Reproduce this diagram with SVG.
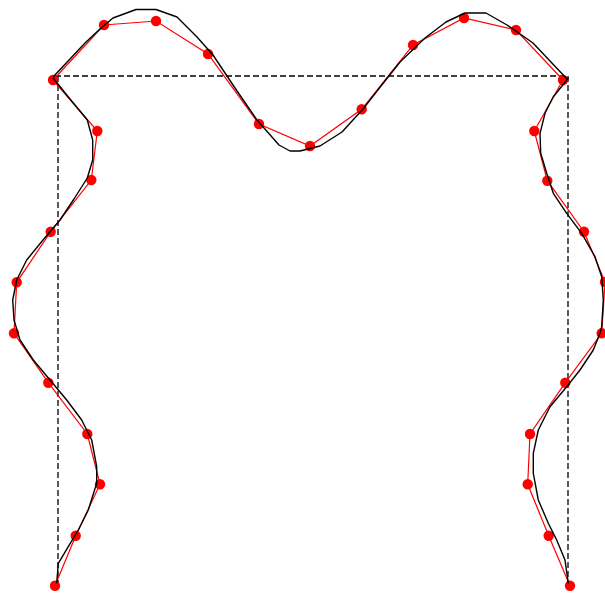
<svg xmlns="http://www.w3.org/2000/svg" width="605" height="594" viewBox="0 0 605 594">
<style>
.dash{fill:none;stroke:#000;stroke-width:1.3;stroke-dasharray:6,3}
.ctrl{fill:none;stroke:#ff0000;stroke-width:1.2}
.curve{fill:none;stroke:#000;stroke-width:1.4;stroke-linejoin:round}
.pt{fill:#ff0000}
</style>
<rect width="605" height="594" fill="#fff"/>
<g id="frame">
<polyline class="dash" points="58,586 58,76"/>
<polyline class="dash" points="55,76 568,76 568,586"/>
</g>
<g id="connectors">
<polyline class="ctrl" points="53,80 104,25 156,21 208,54 259,124 310,146 361.7,109.3 413,45 464,18 516,30 563,80"/>
<polyline class="ctrl" points="53,80 97.3,131 91.3,180 50.7,231.7 16.7,282.3 14,333.3 48.3,382.7 87.3,434 100,484.3 75.7,535.7 55,585.7"/>
<polyline class="ctrl" points="563,80 534.3,131 547.3,180.7 584,231.7 605,282 601.7,333.3 565.3,382.7 530,434 527.7,484.3 548.7,535.7 570,585.7"/>
</g>
<g id="points">
<circle class="pt" cx="53" cy="80" r="5.2"/>
<circle class="pt" cx="104" cy="25" r="5.2"/>
<circle class="pt" cx="156" cy="21" r="5.2"/>
<circle class="pt" cx="208" cy="54" r="5.2"/>
<circle class="pt" cx="259" cy="124" r="5.2"/>
<circle class="pt" cx="310" cy="146" r="5.2"/>
<circle class="pt" cx="361.7" cy="109.3" r="5.2"/>
<circle class="pt" cx="413" cy="45" r="5.2"/>
<circle class="pt" cx="464" cy="18" r="5.2"/>
<circle class="pt" cx="516" cy="30" r="5.2"/>
<circle class="pt" cx="563" cy="80" r="5.2"/>
<circle class="pt" cx="97.3" cy="131" r="5.2"/>
<circle class="pt" cx="91.3" cy="180" r="5.2"/>
<circle class="pt" cx="50.7" cy="231.7" r="5.2"/>
<circle class="pt" cx="16.7" cy="282.3" r="5.2"/>
<circle class="pt" cx="14" cy="333.3" r="5.2"/>
<circle class="pt" cx="48.3" cy="382.7" r="5.2"/>
<circle class="pt" cx="87.3" cy="434" r="5.2"/>
<circle class="pt" cx="100" cy="484.3" r="5.2"/>
<circle class="pt" cx="75.7" cy="535.7" r="5.2"/>
<circle class="pt" cx="55" cy="585.7" r="5.2"/>
<circle class="pt" cx="534.3" cy="131" r="5.2"/>
<circle class="pt" cx="547.3" cy="180.7" r="5.2"/>
<circle class="pt" cx="584" cy="231.7" r="5.2"/>
<circle class="pt" cx="605" cy="282" r="5.2"/>
<circle class="pt" cx="601.7" cy="333.3" r="5.2"/>
<circle class="pt" cx="565.3" cy="382.7" r="5.2"/>
<circle class="pt" cx="530" cy="434" r="5.2"/>
<circle class="pt" cx="527.7" cy="484.3" r="5.2"/>
<circle class="pt" cx="548.7" cy="535.7" r="5.2"/>
<circle class="pt" cx="570" cy="585.7" r="5.2"/>
</g>
<g id="curves">
<polyline class="curve" points="54,76 70,59 85,43 100,29 113,18 136,9.5 156,9.5 177,17 197,37 213,55 235,88 257,120 279,145 290,151 300,151 320,146 342,132 363,109 381,86 400,62 425,38 446,22 465,13 486,13 507,25 533,43 567,79"/>
<polyline class="curve" points="54,76 53.3,78.3 70,99 87.3,120 92.7,140 92.7,160 87.3,178 74,199 60,220 43,240 26.7,260 16.7,280 12.7,300 14,320 20,340 33.3,360 50,380 66.7,400 81.7,420 91.7,440 96.7,466.7 96.7,483.3 88.3,510 78.3,530 68.3,546.7 58.3,563.3 56.7,583.3"/>
<polyline class="curve" points="567,79 568.3,78.3 553.3,96.7 545,113.3 540,133.3 540.7,153.3 546.7,173.3 553.3,193.3 566.7,213.3 581.7,233.3 595,256.7 601.7,276.7 603.3,300 601.7,326.7 600,333 593.3,350 580,370 566.7,386.7 550,406.7 538.3,430 533.3,453.3 533.3,473.3 538.3,500 548.3,523.3 556.7,540 565,560 568.3,583.3"/>
</g>
</svg>
